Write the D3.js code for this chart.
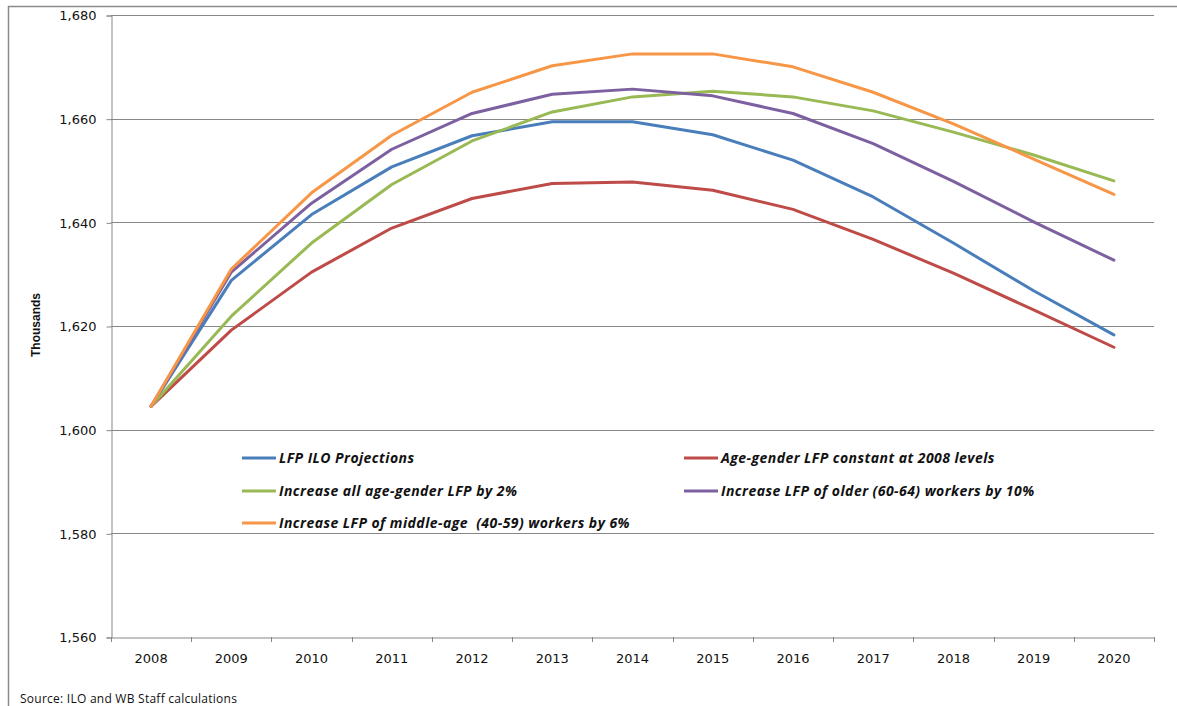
<!DOCTYPE html>
<html>
<head>
<meta charset="utf-8">
<script src="https://cdn.jsdelivr.net/npm/d3@7/dist/d3.min.js"></script>
<style>
  html, body { margin: 0; padding: 0; background: #fff; }
  svg { display: block; }
</style>
</head>
<body>
<svg id="chart" width="1177" height="706"></svg>
<script>
const years = ["2008","2009","2010","2011","2012","2013","2014","2015","2016","2017","2018","2019","2020"];
const yTicks = [1560, 1580, 1600, 1620, 1640, 1660, 1680];

const seriesNames = [
  "LFP ILO Projections",
  "Age-gender LFP constant at 2008 levels",
  "Increase all age-gender LFP by 2%",
  "Increase LFP of older (60-64) workers by 10%",
  "Increase LFP of middle-age  (40-59) workers by 6%"
];
const seriesColors = ["#4A7EBB", "#BE4B48", "#98B954", "#7D60A0", "#F79646"];

const ilo      = [1604.5, 1628.8, 1641.5, 1650.7, 1656.7, 1659.4, 1659.4, 1656.9, 1652.0, 1644.9, 1636.0, 1626.8, 1618.3];
const constant = [1604.5, 1619.2, 1630.4, 1638.9, 1644.6, 1647.5, 1647.8, 1646.2, 1642.5, 1636.7, 1630.2, 1623.1, 1615.9];
const plus2    = [1604.5, 1621.9, 1636.0, 1647.3, 1655.7, 1661.3, 1664.2, 1665.3, 1664.2, 1661.5, 1657.4, 1653.0, 1648.0];
const older10  = [1604.5, 1630.4, 1643.7, 1654.1, 1661.0, 1664.7, 1665.7, 1664.4, 1661.0, 1655.2, 1647.9, 1640.1, 1632.7];
const middle6  = [1604.5, 1631.0, 1645.7, 1656.8, 1665.1, 1670.2, 1672.5, 1672.5, 1670.0, 1665.1, 1659.0, 1652.2, 1645.4];

const seriesValues = [ilo, constant, plus2, older10, middle6];

const svg = d3.select("#chart");
const gridColor = "#878787";

// outer frame
svg.append("line").attr("x1", 8.5).attr("x2", 8.5).attr("y1", 6).attr("y2", 706)
  .attr("stroke", "#8a8a8a").attr("stroke-width", 1.5);
svg.append("line").attr("x1", 8).attr("x2", 1177).attr("y1", 6.5).attr("y2", 6.5)
  .attr("stroke", "#8a8a8a").attr("stroke-width", 1.5);

const x = d3.scaleBand().domain(years).range([111, 1154]).padding(0);
const y = d3.scaleLinear().domain([1560, 1680]).range([637, 15]);

// gridlines
svg.append("g").selectAll("line").data(yTicks.filter(d => d !== 1560)).join("line")
  .attr("x1", 111).attr("x2", 1154)
  .attr("y1", d => Math.round(y(d)) + 0.5).attr("y2", d => Math.round(y(d)) + 0.5)
  .attr("stroke", gridColor).attr("stroke-width", 1);

// y axis
const yAxis = d3.axisLeft(y).tickValues(yTicks).tickSize(5).tickPadding(10)
  .tickFormat(d3.format(","));
const gy = svg.append("g").attr("transform", "translate(111.5,0.5)").call(yAxis);
gy.select(".domain").attr("stroke", gridColor);
gy.selectAll(".tick line").attr("stroke", gridColor);
gy.selectAll(".tick text").attr("font-family", "DejaVu Sans, sans-serif")
  .attr("font-size", 13).attr("fill", "#111");

// x axis
const xAxis = d3.axisBottom(x).tickSize(0).tickPadding(16);
const gx = svg.append("g").attr("transform", "translate(0,637.5)").call(xAxis);
gx.select(".domain").attr("stroke", gridColor);
gx.selectAll(".tick text").attr("font-family", "DejaVu Sans, sans-serif")
  .attr("font-size", 13).attr("fill", "#111");
// category boundary ticks
const bounds = years.map(d => x(d)).concat([x(years[years.length - 1]) + x.bandwidth()]);
svg.append("g").selectAll("line").data(bounds).join("line")
  .attr("x1", d => Math.round(d) + 0.5).attr("x2", d => Math.round(d) + 0.5)
  .attr("y1", 637).attr("y2", 642)
  .attr("stroke", gridColor);

// axis title
svg.append("text")
  .attr("transform", "translate(40,325) rotate(-90)")
  .attr("text-anchor", "middle")
  .attr("font-family", "Liberation Sans Narrow, Liberation Sans, sans-serif")
  .attr("font-weight", "bold").attr("font-size", 12).attr("fill", "#111")
  .text("Thousands");

// lines
const line = d3.line().x((d, i) => x(years[i]) + x.bandwidth() / 2).y(d => y(d));
svg.append("g").selectAll("path").data(seriesValues).join("path")
  .attr("d", d => line(d))
  .attr("fill", "none")
  .attr("stroke", (d, i) => seriesColors[i])
  .attr("stroke-width", 3)
  .attr("stroke-linejoin", "round")
  .attr("stroke-linecap", "round");

// legend
const legendPos = [
  {lx: 242, ty: 458}, {lx: 684, ty: 458},
  {lx: 242, ty: 491}, {lx: 684, ty: 491},
  {lx: 242, ty: 523}
];
const lg = svg.append("g").selectAll("g").data(seriesNames).join("g")
  .attr("transform", (d, i) => `translate(${legendPos[i].lx},${legendPos[i].ty})`);
lg.append("line").attr("x1", 0).attr("x2", 34).attr("y1", 0).attr("y2", 0)
  .attr("stroke", (d, i) => seriesColors[i]).attr("stroke-width", 3);
lg.append("text").attr("x", 37).attr("y", 0).attr("dy", "0.35em")
  .attr("font-family", "Open Sans, sans-serif").attr("font-size", 14)
  .attr("letter-spacing", 0.45)
  .attr("font-weight", "bold").attr("font-style", "italic").attr("fill", "#111")
  .attr("xml:space", "preserve").style("white-space", "pre")
  .text(d => d);

// source
svg.append("text").attr("x", 20).attr("y", 703)
  .attr("font-family", "Open Sans, sans-serif").attr("font-size", 12)
  .attr("letter-spacing", 0.25).attr("fill", "#111")
  .text("Source: ILO and WB Staff calculations");
</script>
</body>
</html>
